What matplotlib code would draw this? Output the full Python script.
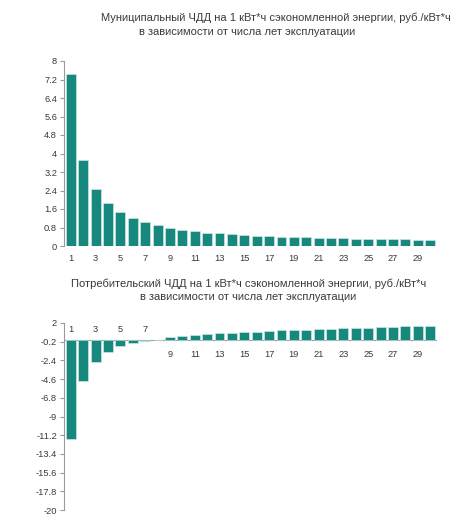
import matplotlib
matplotlib.use("Agg")
import matplotlib.pyplot as plt
import numpy as np

plt.rcParams['font.family'] = ['Liberation Sans', 'DejaVu Sans']

# Years of operation
years = list(range(1, 31))

# Municipal NPV per 1 kWh saved, rub/kWh
municipal_npv = [7.45, 3.70, 2.46, 1.85, 1.49, 1.23, 1.04, 0.92, 0.80, 0.71,
                 0.64, 0.58, 0.55, 0.51, 0.47, 0.44, 0.42, 0.40, 0.38, 0.37,
                 0.35, 0.34, 0.33, 0.32, 0.31, 0.30, 0.29, 0.29, 0.28, 0.28]

# Consumer NPV per 1 kWh saved, rub/kWh
consumer_npv = [-11.6, -4.8, -2.6, -1.4, -0.75, -0.35, -0.12, 0.05, 0.30, 0.45,
                0.58, 0.68, 0.78, 0.86, 0.93, 1.00, 1.06, 1.12, 1.17, 1.22,
                1.27, 1.32, 1.37, 1.42, 1.47, 1.52, 1.56, 1.60, 1.64, 1.68]

top_yticks = [0, 0.8, 1.6, 2.4, 3.2, 4, 4.8, 5.6, 6.4, 7.2, 8]
top_yticklabels = ["0", "0.8", "1.6", "2.4", "3.2", "4", "4.8", "5.6", "6.4", "7.2", "8"]
bottom_yticks = [2, -0.2, -2.4, -4.6, -6.8, -9, -11.2, -13.4, -15.6, -17.8, -20]
bottom_yticklabels = ["2", "-0.2", "-2.4", "-4.6", "-6.8", "-9", "-11.2", "-13.4",
                      "-15.6", "-17.8", "-20"]

title_top = ["Муниципальный ЧДД на 1 кВт*ч сэкономленной энергии, руб./кВт*ч",
             "в зависимости от числа лет эксплуатации"]
title_bottom = ["Потребительский ЧДД на 1 кВт*ч сэкономленной энергии, руб./кВт*ч",
                "в зависимости от числа лет эксплуатации"]

BAR = "#16887e"
TXT = "#3a3a3a"
AX = "#9a9a9a"
W, H = 455, 516

fig = plt.figure(figsize=(W / 100, H / 100), dpi=100)
fig.patch.set_facecolor("white")


def px_axes(x0, y0, x1, y1):
    return fig.add_axes([x0 / W, 1 - y1 / H, (x1 - x0) / W, (y1 - y0) / H])


def style(ax):
    for s in ("top", "right", "bottom"):
        ax.spines[s].set_visible(False)
    ax.spines["left"].set_color(AX)
    ax.spines["left"].set_linewidth(0.8)
    ax.tick_params(axis="y", colors=AX, labelcolor=TXT, labelsize=6.7,
                   length=3, width=0.8, pad=2)
    ax.tick_params(axis="x", length=0, labelcolor=TXT, labelsize=6.7)
    ax.set_xlim(0.45, 30.55)
    ax.axhline(0, color=AX, lw=0.8, zorder=1)


# Top chart
ax1 = px_axes(64, 61, 437, 246)
ax1.bar(years, municipal_npv, width=0.8, color=BAR, edgecolor="#d8eeec",
        linewidth=0.4, zorder=2)
ax1.set_ylim(0, 8)
ax1.set_yticks(top_yticks)
ax1.set_yticklabels(top_yticklabels)
ax1.set_xticks(years[::2])
ax1.set_xticklabels([str(y) for y in years[::2]])
ax1.tick_params(axis="x", pad=6)
style(ax1)

# Bottom chart
ax2 = px_axes(64, 323, 437, 510)
ax2.bar(years, consumer_npv, width=0.8, color=BAR, edgecolor="#d8eeec",
        linewidth=0.4, zorder=2)
ax2.set_ylim(-20, 2)
ax2.set_yticks(bottom_yticks)
ax2.set_yticklabels(bottom_yticklabels)
ax2.set_xticks([])
style(ax2)
for y in years[::2]:
    if y <= 7:
        ax2.text(y, 0.75, str(y), ha="center", va="bottom", fontsize=6.7, color=TXT)
    else:
        ax2.text(y, -1.2, str(y), ha="center", va="top", fontsize=6.7, color=TXT)

# Titles
fig.text(276 / W, 1 - 18 / H, title_top[0], ha="center", va="center",
         fontsize=8.0, color=TXT)
fig.text(247 / W, 1 - 32 / H, title_top[1], ha="center", va="center",
         fontsize=8.0, color=TXT)
fig.text(249 / W, 1 - 284 / H, title_bottom[0], ha="center", va="center",
         fontsize=8.0, color=TXT)
fig.text(248 / W, 1 - 297 / H, title_bottom[1], ha="center", va="center",
         fontsize=8.0, color=TXT)

fig.savefig("out.png", dpi=100, facecolor="white")
